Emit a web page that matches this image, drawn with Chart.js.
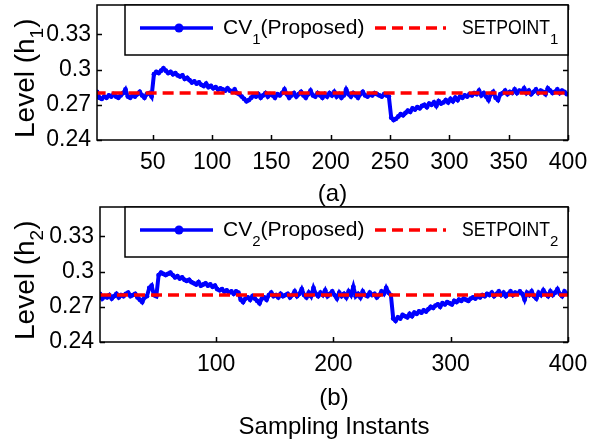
<!DOCTYPE html>
<html>
<head>
<meta charset="utf-8">
<script src="https://cdn.jsdelivr.net/npm/chart.js@4.4.0/dist/chart.umd.min.js"></script>
<style>
body { margin: 0; background: #fff; width: 590px; height: 444px; position: relative; overflow: hidden; }
canvas { position: absolute; left: 0; }
#c1 { top: 0; }
#c2 { top: 200px; }
</style>
</head>
<body>
<canvas id="c1" width="590" height="210"></canvas>
<canvas id="c2" width="590" height="244"></canvas>
<script>
// sampling instants (every 2nd sample)
var sampleX = [];
for (var i = 1; i < 400; i += 2) sampleX.push(i);

// tank 1 level, CV1 (proposed)
var cv1 = [
  0.282,0.281,0.276,0.275,0.277,0.276,0.278,0.277,0.279,0.277,0.276,0.278,0.280,0.283,0.277,0.276,0.278,0.277,0.279,0.281,
  0.278,0.276,0.279,0.280,0.277,0.296,0.298,0.297,0.299,0.301,0.299,0.297,0.298,0.296,0.297,0.295,0.294,0.295,0.292,0.293,
  0.291,0.289,0.290,0.288,0.289,0.287,0.286,0.288,0.285,0.286,0.284,0.285,0.283,0.284,0.283,0.282,0.284,0.282,0.281,0.283,
  0.280,0.279,0.277,0.275,0.273,0.274,0.276,0.278,0.277,0.279,0.276,0.278,0.280,0.277,0.279,0.278,0.276,0.279,0.278,0.280,
  0.283,0.279,0.276,0.278,0.280,0.277,0.279,0.281,0.278,0.276,0.279,0.282,0.278,0.277,0.280,0.278,0.276,0.279,0.277,0.280,
  0.278,0.281,0.277,0.279,0.276,0.278,0.283,0.279,0.277,0.280,0.278,0.276,0.279,0.281,0.278,0.277,0.279,0.278,0.280,0.279,
  0.278,0.277,0.279,0.278,0.277,0.259,0.257,0.258,0.260,0.262,0.261,0.263,0.265,0.264,0.267,0.266,0.268,0.267,0.269,0.270,
  0.268,0.271,0.270,0.272,0.269,0.273,0.271,0.272,0.274,0.272,0.275,0.273,0.276,0.274,0.277,0.276,0.278,0.277,0.279,0.278,
  0.280,0.279,0.282,0.278,0.280,0.277,0.274,0.279,0.281,0.276,0.274,0.279,0.280,0.282,0.279,0.281,0.280,0.283,0.280,0.282,
  0.281,0.284,0.280,0.282,0.279,0.281,0.283,0.280,0.282,0.281,0.279,0.284,0.282,0.280,0.281,0.283,0.280,0.282,0.281,0.279
];

// tank 2 level, CV2 (proposed)
var cv2 = [
  0.281,0.277,0.279,0.278,0.280,0.277,0.279,0.281,0.278,0.280,0.279,0.281,0.282,0.279,0.280,0.281,0.278,0.276,0.274,0.278,
  0.279,0.286,0.288,0.280,0.279,0.297,0.299,0.298,0.297,0.298,0.299,0.297,0.295,0.296,0.294,0.295,0.293,0.292,0.293,0.291,
  0.290,0.289,0.291,0.288,0.289,0.290,0.288,0.289,0.287,0.288,0.285,0.284,0.285,0.283,0.284,0.282,0.283,0.281,0.283,0.282,
  0.276,0.274,0.277,0.278,0.276,0.279,0.277,0.275,0.273,0.277,0.278,0.276,0.280,0.282,0.279,0.280,0.278,0.281,0.279,0.280,
  0.281,0.278,0.280,0.283,0.279,0.281,0.285,0.280,0.278,0.282,0.279,0.286,0.281,0.279,0.282,0.280,0.284,0.279,0.281,0.283,
  0.280,0.277,0.282,0.279,0.281,0.278,0.283,0.280,0.287,0.279,0.281,0.278,0.283,0.280,0.279,0.282,0.280,0.281,0.278,0.280,
  0.283,0.281,0.286,0.282,0.280,0.260,0.258,0.261,0.260,0.263,0.262,0.261,0.264,0.262,0.265,0.264,0.266,0.265,0.267,0.266,
  0.268,0.270,0.269,0.271,0.272,0.270,0.273,0.272,0.274,0.273,0.272,0.275,0.274,0.276,0.275,0.277,0.276,0.275,0.277,0.278,
  0.277,0.279,0.278,0.280,0.279,0.281,0.280,0.282,0.279,0.281,0.283,0.280,0.282,0.279,0.281,0.283,0.280,0.282,0.281,0.283,
  0.281,0.276,0.282,0.280,0.283,0.279,0.277,0.282,0.280,0.284,0.281,0.279,0.283,0.280,0.282,0.285,0.281,0.279,0.283,0.281
];

// setpoints
var setpointX = [1, 400];
var setpoint1 = [0.28, 0.28];
var setpoint2 = [0.28, 0.28];

// ticks
var xTicksA = [50, 100, 150, 200, 250, 300, 350, 400];
var xTicksB = [100, 200, 300, 400];
var yTicks = [0.24, 0.27, 0.3, 0.33];
var yTickText = ["0.24", "0.27", "0.3", "0.33"];

var FONT = "'Liberation Sans', Arial, sans-serif";

// frame, inward ticks, legend with subscripts, y label with subscript
var decorPlugin = {
    id: 'decor',
    afterDatasetsDraw: function (chart) {
        var ctx = chart.ctx, a = chart.chartArea;
        var xs = chart.scales.x, ys = chart.scales.y;
        var o = chart.options.plugins.decor;
        ctx.save();
        ctx.strokeStyle = '#000';
        ctx.lineWidth = 1.5;
        ctx.beginPath();
        xs.ticks.forEach(function (t) {
            var px = Math.round(xs.getPixelForValue(t.value)) + 0.5;
            ctx.moveTo(px, a.bottom); ctx.lineTo(px, a.bottom - 5);
            ctx.moveTo(px, a.top); ctx.lineTo(px, a.top + 5);
        });
        ys.ticks.forEach(function (t) {
            var py = Math.round(ys.getPixelForValue(t.value)) + 0.5;
            ctx.moveTo(a.left, py); ctx.lineTo(a.left + 5, py);
            ctx.moveTo(a.right, py); ctx.lineTo(a.right - 5, py);
        });
        ctx.stroke();
        ctx.strokeRect(a.left, a.top, a.right - a.left, a.bottom - a.top);

        // legend box
        var L = 125, T = a.top, R = a.right, B = a.top + 50;
        ctx.fillStyle = '#fff';
        ctx.fillRect(L, T, R - L, B - T);
        ctx.strokeRect(L, T, R - L, B - T);

        var ds = chart.data.datasets;
        var ly = T + 23;
        ctx.lineWidth = 3.5;
        ctx.strokeStyle = ds[0].borderColor;
        ctx.beginPath(); ctx.moveTo(L + 15, ly); ctx.lineTo(L + 88, ly); ctx.stroke();
        ctx.fillStyle = ds[0].borderColor;
        ctx.beginPath(); ctx.arc(L + 54, ly, 4.5, 0, Math.PI * 2); ctx.fill();

        ctx.strokeStyle = ds[1].borderColor;
        ctx.lineWidth = 3.5;
        ctx.setLineDash([11, 6]);
        ctx.beginPath(); ctx.moveTo(L + 250, ly); ctx.lineTo(L + 321, ly); ctx.stroke();
        ctx.setLineDash([]);

        ctx.fillStyle = '#000';
        ctx.textBaseline = 'alphabetic';
        ctx.textAlign = 'left';
        drawSub(ctx, o.legend[0], L + 98, T + 29, 21, 15, 10, 0);
        drawSub(ctx, o.legend[1], L + 337, T + 29, 21, 15, 10, 88);

        // y axis label
        ctx.save();
        ctx.translate(34, a.bottom - 2);
        ctx.rotate(-Math.PI / 2);
        drawSub(ctx, o.ylabel, 0, 0, 28, 19, 9, 0);
        ctx.restore();
        ctx.restore();
    }
};

function drawSub(ctx, parts, x, y, size, subSize, drop, maxW) {
    ctx.font = size + 'px ' + FONT;
    var w = ctx.measureText(parts[0]).width;
    if (maxW && w > maxW) { ctx.fillText(parts[0], x, y, maxW); w = maxW; }
    else ctx.fillText(parts[0], x, y);
    x += w;
    ctx.font = subSize + 'px ' + FONT;
    ctx.fillText(parts[1], x, y + drop);
    x += ctx.measureText(parts[1]).width;
    ctx.font = size + 'px ' + FONT;
    if (parts[2]) ctx.fillText(parts[2], x, y);
}

function makeChart(id, values, setpoint, xTicks, xMin, opt) {
    return new Chart(document.getElementById(id), {
        type: 'line',
        data: {
            datasets: [{
                data: sampleX.map(function (x, i) { return { x: x, y: values[i] }; }),
                borderColor: '#0000ff',
                backgroundColor: '#0000ff',
                borderWidth: 4,
                pointRadius: 2.4,
                pointBorderWidth: 0,
                order: 2
            }, {
                data: setpointX.map(function (x, i) { return { x: x, y: setpoint[i] }; }),
                borderColor: '#ff0000',
                borderWidth: 3.5,
                borderDash: [11, 6],
                pointRadius: 0,
                order: 1
            }]
        },
        options: {
            responsive: false,
            animation: false,
            devicePixelRatio: 1,
            layout: { padding: { top: opt.padTop, right: 22, left: 0, bottom: 0 } },
            plugins: {
                legend: { display: false },
                tooltip: { enabled: false },
                decor: { legend: opt.legend, ylabel: opt.ylabel }
            },
            scales: {
                x: {
                    type: 'linear',
                    min: xMin,
                    max: 400,
                    afterBuildTicks: function (s) { s.ticks = xTicks.map(function (v) { return { value: v }; }); },
                    afterFit: function (s) { s.height = opt.xH; s.paddingLeft = 0; s.paddingRight = 0; },
                    grid: { display: false, drawTicks: false },
                    border: { display: false },
                    ticks: { color: '#000', font: { family: FONT, size: 23 }, padding: 9, maxRotation: 0, autoSkip: false },
                    title: {
                        display: true,
                        text: opt.title,
                        color: '#000',
                        font: { family: FONT, size: 24, lineHeight: '29px' },
                        padding: { top: 0, bottom: opt.titlePad }
                    }
                },
                y: {
                    min: 0.24,
                    max: 0.355,
                    afterBuildTicks: function (s) { s.ticks = yTicks.map(function (v) { return { value: v }; }); },
                    afterFit: function (s) { s.width = opt.yW; s.paddingTop = 0; s.paddingBottom = 0; },
                    grid: { display: false, drawTicks: false },
                    border: { display: false },
                    ticks: {
                        color: '#000', font: { family: FONT, size: 23 }, padding: 6,
                        callback: function (v, i) { return yTickText[i]; }
                    }
                }
            }
        },
        plugins: [decorPlugin]
    });
}

makeChart('c1', cv1, setpoint1, xTicksA, 3, {
    padTop: 5, xH: 70, yW: 97, title: '(a)', titlePad: 1,
    legend: [['CV', '1', '(Proposed)'], ['SETPOINT', '1', '']],
    ylabel: ['Level (h', '1', ')']
});
makeChart('c2', cv2, setpoint2, xTicksB, 1, {
    padTop: 7, xH: 102, yW: 100, title: ['(b)', 'Sampling Instants'], titlePad: 2,
    legend: [['CV', '2', '(Proposed)'], ['SETPOINT', '2', '']],
    ylabel: ['Level (h', '2', ')']
});
</script>
</body>
</html>
